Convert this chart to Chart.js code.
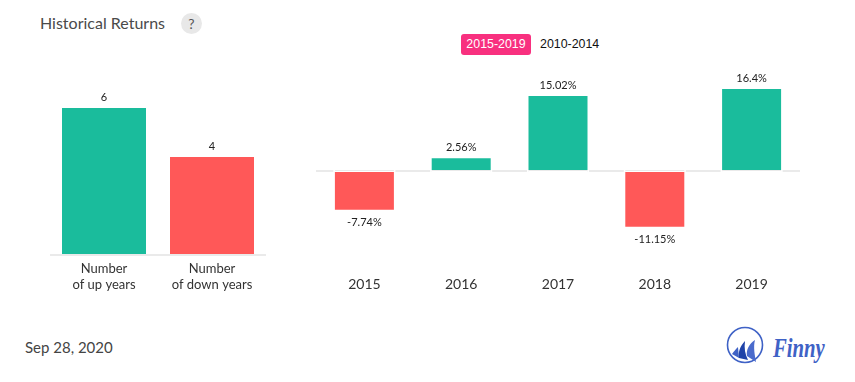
<!DOCTYPE html>
<html><head><meta charset="utf-8">
<style>
html,body{margin:0;padding:0;background:#fff;width:855px;height:382px;overflow:hidden;font-family:Lato,sans-serif}
.a{position:absolute;white-space:nowrap}
canvas{position:absolute}
</style>
<script src="https://cdn.jsdelivr.net/npm/chart.js@4"></script>
</head><body>
<div class="a" style="left:40px;top:12.5px;font-size:16px;line-height:20px;color:#4a4a4a">Historical Returns</div>
<div class="a" style="left:181px;top:13px;width:21px;height:21px;border-radius:50%;background:#e8e8e8;color:#555;font-size:14px;line-height:21px;text-align:center">?</div>
<div class="a" style="left:461px;top:34px;width:70px;height:21px;border-radius:3px;background:#f8307f;color:#fff;font:12.4px/21px 'Liberation Sans',sans-serif;text-align:center">2015-2019</div>
<div class="a" style="left:540px;top:34px;color:#111;font:12.4px/21px 'Liberation Sans',sans-serif">2010-2014</div>
<div class="a" style="left:25px;top:337px;font-size:15px;line-height:20px;color:#444">Sep 28, 2020</div>
<svg class="a" style="left:726px;top:325px" width="40" height="40" viewBox="0 0 40 40">
<circle cx="19" cy="20" r="17.5" fill="none" stroke="#3f62c6" stroke-width="1.6"/>
<path d="M6 29 C8 26 10 24 12 22 L13 33 Z" fill="#3f62c6"/>
<path d="M13 33 C12 27 14 21 19 16 C18 23 19 29 22 35 Z" fill="#1f43a8"/>
<path d="M21 31 C20 25 23 19 29 15 C27 22 29 31 30 37 Z" fill="#4a6bcc"/>
</svg>
<div class="a" style="left:773px;top:332px;font-family:'Liberation Serif',serif;font-size:28px;line-height:32px;font-style:italic;font-weight:700;color:#3f62c6;transform:scaleX(0.74);transform-origin:0 50%">Finny</div>
<canvas id="left" style="left:50px;top:88px;width:216px;height:212px"></canvas>
<canvas id="right" style="left:316px;top:61px;width:484px;height:239px"></canvas>
<script>
const countCategories=[["Number","of up years"],["Number","of down years"]];
const countValues=[6,4];
const countColors=["#1abc9c","#ff5858"];
const years=["2015","2016","2017","2018","2019"];
const returns=[-7.74,2.56,15.02,-11.15,16.4];
const returnLabels=["-7.74%","2.56%","15.02%","-11.15%","16.4%"];
const UP="#1abc9c",DOWN="#ff5858";

const valueLabels=(texts,gap,notch)=>({id:'valueLabels',afterDatasetsDraw(c){
  const x=c.ctx,m=c.getDatasetMeta(0),z=Math.round(c.scales.y.getPixelForValue(0));
  x.save();
  if(notch){
    x.fillStyle="#fff";
    m.data.forEach(b=>{
      const l=b.x-b.width/2,w=b.width;
      x.fillRect(l-1.5,z-1,1.5,2);
      x.fillRect(l+w,z-1,1.5,2);
      x.fillRect(l,z,w,1);
    });
  }
  x.font="11px Lato";x.fillStyle="#222";x.textAlign="center";
  m.data.forEach((b,i)=>{
    const v=c.data.datasets[0].data[i];
    x.textBaseline=v<0?"top":"bottom";
    x.fillText(texts[i],b.x,v<0?b.y+gap+2:b.y-gap);
  });
  x.restore();
}});
const xAxis=(h,size)=>({
  grid:{display:false},border:{display:false},
  ticks:{color:"#333",font:{family:"Lato",size:size},padding:0,maxRotation:0,autoSkip:false},
  afterFit(s){s.height=h}
});
const base={responsive:false,animation:false,plugins:{legend:{display:false},tooltip:{enabled:false}}};

function make(id,w,h,labels,data,colors,barPct,yMin,yMax,top,axisH,texts,gap,size,tickPad,notch){
  const cv=document.getElementById(id);cv.width=w;cv.height=h;
  const ax=xAxis(axisH,size);ax.ticks.padding=tickPad;
  return new Chart(cv,{type:"bar",
    data:{labels,datasets:[{data,backgroundColor:colors,barPercentage:barPct,categoryPercentage:1,borderWidth:0}]},
    options:{...base,layout:{padding:{top:top,left:0,right:0,bottom:0}},
      scales:{x:ax,
        y:{display:true,min:yMin,max:yMax,ticks:{display:false,stepSize:yMax-yMin>10?20:6},border:{display:false},
           grid:{drawTicks:false,lineWidth:2,color:c=>c.tick.value===0?"#eaeaea":"rgba(0,0,0,0)"},afterFit(s){s.width=0}}}},
    plugins:[valueLabels(texts,gap,notch)]});
}
make("left",216,212,countCategories,countValues,countColors,84/108,0,6,20,45,countValues.map(String),5,13,-2,false);
make("right",484,239,years,returns,returns.map(v=>v<0?DOWN:UP),59/96.8,-20,20,10,29,returnLabels,5,14,-3,true);
</script>
</body></html>
